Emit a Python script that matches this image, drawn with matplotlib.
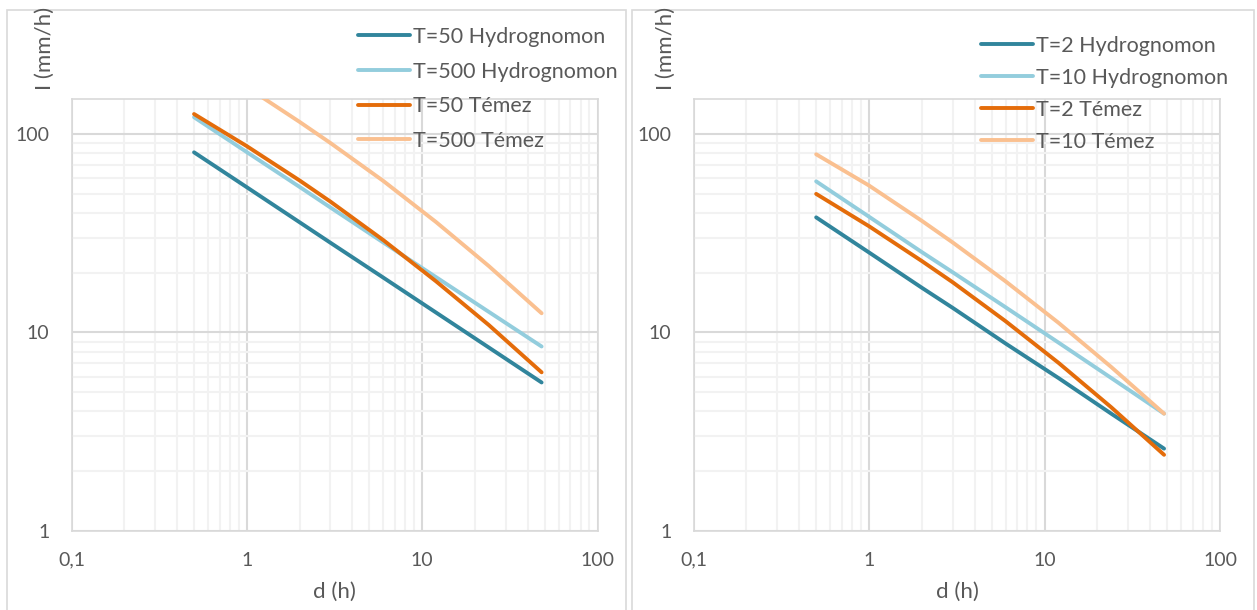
import matplotlib
matplotlib.use("Agg")
import matplotlib.pyplot as plt
from matplotlib.patches import Rectangle
from matplotlib.ticker import FixedLocator, FixedFormatter, LogLocator, NullFormatter

# durations (h)
d = [0.5, 1, 2, 3, 6, 12, 24, 48]

# left panel, T=50 / T=500
hydro_50 = [80.8, 53.9, 35.9, 28.3, 18.9, 12.6, 8.4, 5.6]
hydro_500 = [121.4, 81.0, 54.1, 42.6, 28.4, 19.0, 12.7, 8.5]
temez_50 = [126, 86.8, 58.3, 45.6, 29.2, 18.1, 10.9, 6.3]
temez_500 = [250, 172, 115, 90, 58, 36, 21.6, 12.5]

# right panel, T=2 / T=10
hydro_2 = [38.0, 25.3, 16.8, 13.3, 8.8, 5.9, 3.9, 2.6]
hydro_10 = [57.7, 38.3, 25.4, 20.1, 13.4, 8.9, 5.9, 3.9]
temez_2 = [49.9, 34.3, 22.9, 17.9, 11.4, 7.04, 4.2, 2.42]
temez_10 = [79, 55, 36.5, 28.4, 18.1, 11.2, 6.7, 3.9]

left_labels = ["T=50 Hydrognomon", "T=500 Hydrognomon", "T=50 Témez", "T=500 Témez"]
right_labels = ["T=2 Hydrognomon", "T=10 Hydrognomon", "T=2 Témez", "T=10 Témez"]

x_ticks = [0.1, 1, 10, 100]
x_ticklabels = ["0,1", "1", "10", "100"]
y_ticks = [1, 10, 100]
y_ticklabels = ["1", "10", "100"]

colors = ["#31859C", "#93CDDD", "#E46C0A", "#FAC090"]
TXT = "#595959"

plt.rcParams["font.family"] = ["Lato", "DejaVu Sans"]

W, H = 1257, 610
fig = plt.figure(figsize=(W / 100, H / 100), dpi=100)


def setup_axes(ax):
    ax.set_xscale("log")
    ax.set_yscale("log")
    ax.set_xlim(0.1, 100)
    ax.set_ylim(1, 150)
    ax.xaxis.set_major_locator(FixedLocator(x_ticks))
    ax.xaxis.set_major_formatter(FixedFormatter(x_ticklabels))
    ax.yaxis.set_major_locator(FixedLocator(y_ticks))
    ax.yaxis.set_major_formatter(FixedFormatter(y_ticklabels))
    for axis in (ax.xaxis, ax.yaxis):
        axis.set_minor_locator(LogLocator(base=10, subs=range(2, 10)))
        axis.set_minor_formatter(NullFormatter())
    ax.grid(which="minor", color="#F2F2F2", lw=1.5, zorder=0)
    ax.grid(which="major", color="#D9D9D9", lw=1.5, zorder=0)
    ax.tick_params(which="both", length=0, labelsize=14, labelcolor=TXT)
    ax.tick_params(axis="x", pad=15)
    ax.tick_params(axis="y", pad=16)
    for s in ax.spines.values():
        s.set_color("#D9D9D9")
        s.set_linewidth(1.2)
    ax.set_axisbelow(True)


def draw_panel(ax, series, labels, legend_xy, spacing):
    setup_axes(ax)
    lines = []
    for vals, c, lab in zip(series, colors, labels):
        ln, = ax.plot(d, vals, color=c, lw=2.8, solid_capstyle="round", label=lab, zorder=3)
        lines.append(ln)
    fig.legend(handles=lines, loc="upper left", bbox_to_anchor=legend_xy,
               frameon=False, fontsize=15.5, labelcolor=TXT, handlelength=2.4,
               handletextpad=0.15, labelspacing=spacing, borderaxespad=0, borderpad=0)


ax1 = fig.add_axes([71.5 / W, 1 - 531 / H, (597.5 - 71.5) / W, (531 - 99) / H])
ax2 = fig.add_axes([693.5 / W, 1 - 531 / H, (1220 - 693.5) / W, (531 - 99) / H])

draw_panel(ax1, [hydro_50, hydro_500, temez_50, temez_500], left_labels,
           (358 / W, 1 - 27 / H), 0.68)
draw_panel(ax2, [hydro_2, hydro_10, temez_2, temez_10], right_labels,
           (981 / W, 1 - 36 / H), 0.55)

for xc in (45, 666):
    fig.text(xc / W, 1 - 48 / H, "I (mm/h)", rotation=90, ha="center", va="center",
             fontsize=16, color=TXT)
for xc in (334, 957):
    fig.text(xc / W, 1 - 592 / H, "d (h)", ha="center", va="center",
             fontsize=16, color=TXT)

# panel frames
fig.patches.append(Rectangle((7 / W, -0.05), 619 / W, 1 - 10 / H + 0.05,
                             transform=fig.transFigure, fill=False, ec="#D9D9D9", lw=1.2))
fig.patches.append(Rectangle((632 / W, -0.05), 622 / W, 1 - 10 / H + 0.05,
                             transform=fig.transFigure, fill=False, ec="#D9D9D9", lw=1.2))

fig.savefig("out.png", dpi=100)
